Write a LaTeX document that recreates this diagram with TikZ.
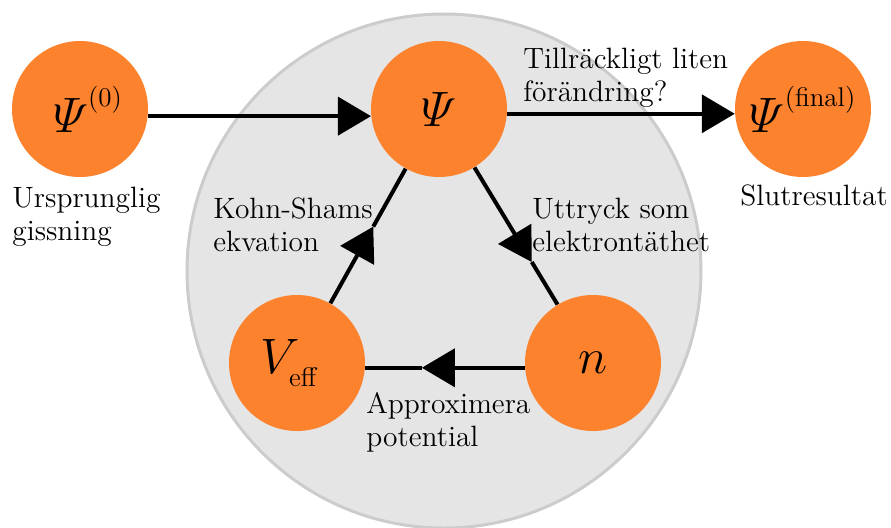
\documentclass[tikz,border=0pt]{standalone}
\usepackage{amsmath}
\usetikzlibrary{arrows.meta}
\definecolor{myorange}{RGB}{253,130,46}
\definecolor{bgfill}{RGB}{229,229,229}
\definecolor{bgline}{RGB}{204,204,204}
\tikzset{
  st/.style={circle, fill=myorange, minimum size=68pt, inner sep=0pt, font=\fontsize{25}{27}\selectfont},
  lbl/.style={align=left, font=\fontsize{14.7}{16.5}\selectfont, anchor=base west, inner sep=0pt},
  ln/.style={line width=2pt},
  arr/.style={ln, -{Triangle[length=16.5pt,width=19pt]}}
}
\newcommand{\supx}[1]{\raisebox{4pt}{\hbox{\fontsize{13.5}{14}\selectfont #1}}}
\begin{document}
\begin{tikzpicture}[x=0.5pt,y=-0.5pt]
\useasboundingbox (0,0) rectangle (891,527);
\draw[line width=1.5pt, draw=bgline, fill=bgfill] (444,271) circle[radius=128.5pt];
% states
\node[st] (psi0) at (80,109) {\hspace*{8pt}$\varPsi^{\supx{(0)}}$};
\node[st] (psi) at (439,109) {$\varPsi$};
\node[st] (psif) at (803,109) {$\varPsi^{\supx{(final)}}$};
\node[st] (veff) at (297,363) {\hspace*{-8pt}$V_{\raisebox{-3pt}{\hbox{\fontsize{13.5}{14}\selectfont eff}}}$};
\node[st] (n) at (593,363) {$n$};
% labels
\node[lbl] (l1) at (12,240) {Ursprunglig\\gissning};
\node[lbl] (l2) at (740,205) {Slutresultat};
\node[lbl] (l3) at (213,251) {Kohn-Shams\\ekvation};
\node[lbl] (l4) at (532,251) {Uttryck som\\elektront\"athet};
\node[lbl] (l5) at (523,101) {Tillr\"ackligt liten\\f\"or\"andring?};
\node[lbl] (l6) at (366,446) {Approximera\\potential};
% connectors
\draw[arr] (psi0.-6.5) -- (psi.186.5);
\draw[arr] (psi.-4.5) -- (psif.184.5);
\path (veff) -- coordinate[pos=0.57] (t1) (psi);
\path (psi) -- coordinate[pos=0.69] (t2) (n);
\path (n.184) -- coordinate[pos=0.645] (t3) (veff.-4);
\draw[arr] (veff) -- (t1);
\draw[ln] (t1) -- (psi);
\draw[arr] (psi) -- (t2);
\draw[ln] (t2) -- (n);
\draw[arr] (n.184) -- (t3);
\draw[ln] (t3) -- (veff.-4);
\end{tikzpicture}
\end{document}
